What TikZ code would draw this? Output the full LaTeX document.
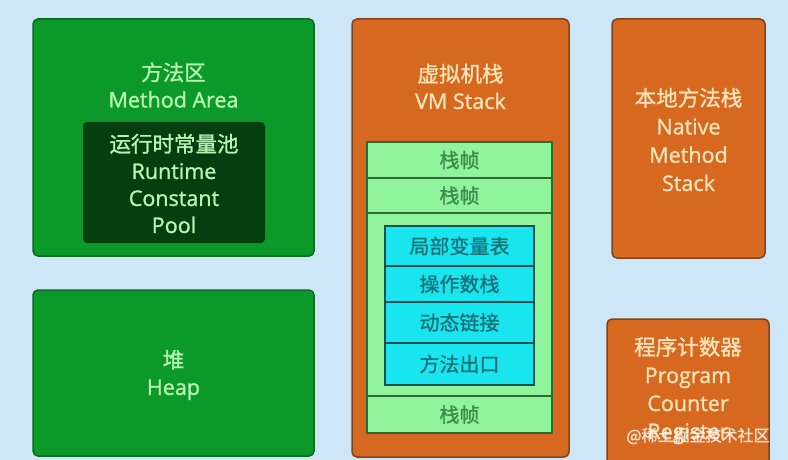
\documentclass[tikz,border=0pt]{standalone}
\usepackage{fontspec}
\setmainfont{Open Sans}[FakeBold=1.2]
\newfontfamily\cjk{Noto Sans CJK SC}[FakeBold=1.2]
\definecolor{bgblue}{HTML}{CDE7F9}
\definecolor{areagreen}{HTML}{0B9A2A}
\definecolor{areaedge}{HTML}{0A6A1E}
\definecolor{darkpool}{HTML}{053F10}
\definecolor{greentext}{HTML}{B8F5B2}
\definecolor{stackorange}{HTML}{D6691F}
\definecolor{orangeedge}{HTML}{7E4318}
\definecolor{orangetext}{HTML}{FDE3B8}
\definecolor{framegreen}{HTML}{8FF49C}
\definecolor{frameedge}{HTML}{2F6A35}
\definecolor{frametext}{HTML}{3C8A4C}
\definecolor{cyanbox}{HTML}{19E5EE}
\definecolor{cyanedge}{HTML}{1B4F52}
\definecolor{cyantext}{HTML}{1A7278}
\tikzset{
  region/.style={rounded corners=5pt, line width=1.5pt, inner sep=0pt},
  greenregion/.style={region, fill=areagreen, draw=areaedge},
  orangeregion/.style={region, fill=stackorange, draw=orangeedge},
  poolbox/.style={rounded corners=4pt, fill=darkpool, draw=none, inner sep=0pt},
  framebox/.style={fill=framegreen, draw=frameedge, line width=1.2pt, inner sep=0pt},
  cyancell/.style={fill=cyanbox, draw=cyanedge, line width=1.2pt, inner sep=0pt},
  label/.style={align=center, inner sep=0pt, font=\fontsize{21.5}{27}\selectfont},
  glabel/.style={label, text=greentext},
  olabel/.style={label, text=orangetext},
  flabel/.style={inner sep=0pt, font=\cjk\fontsize{20}{24}\selectfont, text=frametext},
  clabel/.style={inner sep=0pt, font=\cjk\fontsize{20}{24}\selectfont, text=cyantext},
}
\begin{document}
\begin{tikzpicture}[x=1pt,y=-1pt]
\fill[bgblue] (0,0) rectangle (788,460);
\useasboundingbox (0,0) rectangle (788,460);

% Method Area
\node[greenregion, minimum width=281pt, minimum height=237pt] (ma) at (173.5,137.5) {};
\node[glabel] (maT) at (173.5,85) {{\cjk 方法区}\\Method Area};
\node[poolbox, minimum width=182pt, minimum height=121pt] (pool) at (174,182.5) {};
\node[glabel] (poolT) at (174,183.5) {{\cjk 运行时常量池}\\Runtime\\Constant\\Pool};

% Heap
\node[greenregion, minimum width=281pt, minimum height=166pt] (heap) at (173.5,373) {};
\node[glabel] (heapT) at (173.5,375) {{\cjk 堆}\\Heap};

% VM Stack
\node[orangeregion, minimum width=217pt, minimum height=438pt] (vm) at (460.5,238) {};
\node[olabel] (vmT) at (460.5,86.5) {{\cjk 虚拟机栈}\\VM Stack};
\node[framebox, minimum width=185pt, minimum height=36pt] (f1) at (459.5,160) {};
\node[flabel] at (f1) {栈帧};
\node[framebox, minimum width=185pt, minimum height=35pt] (f2) at (459.5,195.5) {};
\node[flabel] at (f2) {栈帧};
\node[framebox, minimum width=185pt, minimum height=183pt] (f3) at (459.5,304.5) {};
\node[framebox, minimum width=185pt, minimum height=37pt] (f4) at (459.5,414.5) {};
\node[flabel] at (f4) {栈帧};
\node[cyancell, minimum width=149pt, minimum height=40pt] (c1) at (459.5,246) {};
\node[clabel] at (c1) {局部变量表};
\node[cyancell, minimum width=149pt, minimum height=36pt] (c2) at (459.5,284) {};
\node[clabel] at (c2) {操作数栈};
\node[cyancell, minimum width=149pt, minimum height=41pt] (c3) at (459.5,322.5) {};
\node[clabel] at (c3) {动态链接};
\node[cyancell, minimum width=149pt, minimum height=42pt] (c4) at (459.5,364) {};
\node[clabel] at (c4) {方法出口};

% Native Method Stack
\node[orangeregion, minimum width=153pt, minimum height=239pt] (nms) at (688.5,138.5) {};
\node[olabel, font=\fontsize{21.5}{28.3}\selectfont] (nmsT) at (688.5,139.5) {{\cjk 本地方法栈}\\Native\\Method\\Stack};

% Program Counter Register
\node[orangeregion, minimum width=162pt, minimum height=149pt] (pc) at (688,393.5) {};
\node[olabel, font=\fontsize{21.5}{28}\selectfont] (pcT) at (688,390.5) {{\cjk 程序计数器}\\Program\\Counter\\Register};

% watermark
\node[inner sep=0pt, text=white, opacity=0.75, font=\cjk\fontsize{16}{18}\selectfont] (wm) at (698,436) {@稀土掘金技术社区};
\end{tikzpicture}
\end{document}
